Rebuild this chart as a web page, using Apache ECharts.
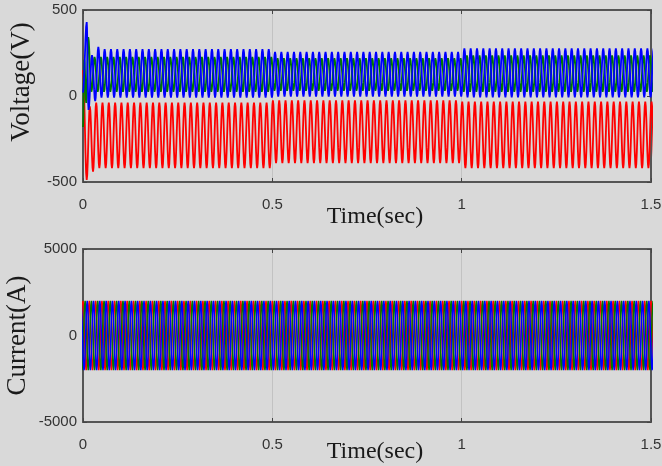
<!DOCTYPE html>
<html><head><meta charset="utf-8">
<script src="https://cdn.jsdelivr.net/npm/echarts@6/dist/echarts.min.js"></script>
<style>html,body{margin:0;padding:0;background:#d9d9d9}#c{width:662px;height:466px}</style>
</head><body><div id="c"></div>
<script>
const FREQ = 60;               // Hz, read from the cycle spacing
const T_END = 1.5;
const segEdges = [0, 0.5, 1.0, 1.5];
// voltage steady-state extremes per segment (V)
const vBlueHi = [273, 257, 277];
const vBlueLo = [-10, -4, -8];
const vGreenHi = [227, 220, 236];
const vGreenLo = [25, 30, 25];
const vRedHi = [-38, -25, -33];
const vRedLo = [-420, -390, -420];
// start-up transient extremes (time s, value V)
const vBlueStartT = [0, 0.0098, 0.0146, 0.0238, 0.0322, 0.0405];
const vBlueStartV = [20, 430, -81, 238, -30, 285];
const vGreenStartT = [0, 0.0035, 0.0085, 0.0138];
const vGreenStartV = [-180, 210, -40, 343];
const vRedStartT = [0, 0.0098, 0.018, 0.0265];
const vRedStartV = [150, -488, -60, -440];
const vPhaseBlue = 0.43, vPhaseGreen = 0.83, vPhaseRed = 0.09;
// current extremes per segment (A)
const iHi = [2000, 2000, 2000];
const iLo = [-2000, -2000, -2000];
const iPhaseRed = 0, iPhaseGreen = 1 / 3, iPhaseBlue = 2 / 3;
// one half-cycle of the waveform, trough-to-peak (normalised)
const halfShape = [0, 0.067, 0.25, 0.5, 0.75, 0.933, 1];

function segOf(t) {
  for (let s = 0; s < segEdges.length - 2; s++) if (t < segEdges[s + 1]) return s;
  return segEdges.length - 2;
}
function buildWave(startT, startV, phase, hi, lo) {
  const ext = startT.map((t, i) => [t, startV[i]]);
  const tLast = ext.length ? ext[ext.length - 1][0] : -1;
  for (let j = -2; ; j++) {
    const t = (phase + j / 2) / FREQ;
    if (t > T_END + 1 / FREQ) break;
    if (t <= tLast + 0.002) continue;
    const s = segOf(Math.max(t, 0));
    ext.push([t, (((j % 2) + 2) % 2 === 0) ? hi[s] : lo[s]]);
  }
  const pts = [[ext[0][0], ext[0][1]]];
  for (let k = 1; k < ext.length; k++) {
    const ta = ext[k - 1][0], va = ext[k - 1][1], tb = ext[k][0], vb = ext[k][1];
    for (let m = 1; m < halfShape.length; m++) {
      const f = m / (halfShape.length - 1);
      pts.push([ta + (tb - ta) * f, va + (vb - va) * halfShape[m]]);
    }
  }
  return pts;
}

const frame = '#555555';
const tickFont = { fontFamily: 'Liberation Sans', fontSize: 15, color: '#333' };
const nameFont = { fontFamily: 'Liberation Serif', fontSize: 24, color: '#1a1a1a' };

function xMain(g, gap) {
  return {
    gridIndex: g, type: 'value', min: 0, max: T_END, interval: 0.5, position: 'bottom',
    name: 'Time(sec)', nameLocation: 'middle', nameGap: gap, nameMoveOverlap: false,
    nameTextStyle: Object.assign({ padding: [0, 0, 0, 16] }, nameFont),
    axisLine: { onZero: false, lineStyle: { color: frame, width: 2 } },
    axisTick: { inside: true, length: 4, lineStyle: { color: '#444' } },
    axisLabel: Object.assign({ margin: 15 }, tickFont),
    splitLine: { show: true, lineStyle: { color: '#c2c2c2', width: 1 } }
  };
}
function xTop(g) {
  return {
    gridIndex: g, type: 'value', min: 0, max: T_END, interval: 0.5, position: 'top',
    axisLine: { onZero: false, lineStyle: { color: frame, width: 2 } },
    axisTick: { inside: true, length: 4, lineStyle: { color: '#444' } },
    axisLabel: { show: false }, splitLine: { show: false }
  };
}
function yMain(g, lim, name, gap, pad, fs) {
  return {
    gridIndex: g, type: 'value', min: -lim, max: lim, interval: lim, position: 'left',
    name: name, nameLocation: 'middle', nameGap: gap, nameMoveOverlap: false,
    nameTextStyle: Object.assign({}, nameFont, { padding: pad, fontSize: fs }),
    axisLine: { onZero: false, lineStyle: { color: frame, width: 2 } },
    axisTick: { inside: true, length: 4, lineStyle: { color: '#444' } },
    axisLabel: Object.assign({ margin: 6, formatter: v => String(v) }, tickFont),
    splitLine: { show: false }
  };
}
function yRight(g, lim) {
  return {
    gridIndex: g, type: 'value', min: -lim, max: lim, interval: lim, position: 'right',
    axisLine: { onZero: false, lineStyle: { color: frame, width: 2 } },
    axisTick: { inside: true, length: 4, lineStyle: { color: '#444' } },
    axisLabel: { show: false }, splitLine: { show: false }
  };
}
function line(name, data, color, w, xi) {
  return {
    name: name, type: 'line', xAxisIndex: xi, yAxisIndex: xi, data: data,
    showSymbol: false, symbol: 'none', clip: true, sampling: null,
    lineStyle: { color: color, width: w }, itemStyle: { color: color }, z: 2
  };
}

const chart = echarts.init(document.getElementById('c'), null, { renderer: 'canvas' });
chart.setOption({
  backgroundColor: '#d9d9d9',
  animation: false,
  grid: [
    { left: 83, right: 11, top: 10, height: 172, outerBoundsMode: 'none', containLabel: false },
    { left: 83, right: 11, top: 249, height: 173, outerBoundsMode: 'none', containLabel: false }
  ],
  xAxis: [xMain(0, 23), xTop(0), xMain(1, 18), xTop(1)],
  yAxis: [
    yMain(0, 500, 'Voltage(V)', 48, [0, 0, 0, 28], 27), yRight(0, 500),
    yMain(1, 5000, 'Current(A)', 52, [0, 0, 0, 0], 27), yRight(1, 5000)
  ],
  series: [
    line('Va', buildWave(vRedStartT, vRedStartV, vPhaseRed, vRedHi, vRedLo), '#ff0000', 1.8, 0),
    line('Vb', buildWave(vGreenStartT, vGreenStartV, vPhaseGreen, vGreenHi, vGreenLo), '#007800', 1.8, 0),
    line('Vc', buildWave(vBlueStartT, vBlueStartV, vPhaseBlue, vBlueHi, vBlueLo), '#0000ff', 1.8, 0),
    line('Ia', buildWave([], [], iPhaseRed, iHi, iLo), '#ff0000', 1.5, 2),
    line('Ib', buildWave([], [], iPhaseGreen, iHi, iLo), '#007800', 1.5, 2),
    line('Ic', buildWave([], [], iPhaseBlue, iHi, iLo), '#0000ff', 1.5, 2)
  ]
});
</script></body></html>
